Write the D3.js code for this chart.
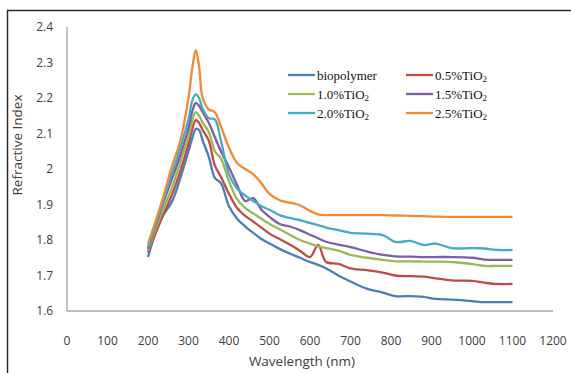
<!DOCTYPE html>
<html>
<head>
<meta charset="utf-8">
<script src="https://cdn.jsdelivr.net/npm/d3@7"></script>
<style>
  body { margin: 0; background: #fff; }
  svg { display: block; }
</style>
</head>
<body>
<div id="chart"></div>
<script>
// wavelength grid (nm) shared by all series
let wavelengths = [200, 230, 260, 280, 300, 310, 318, 326, 335, 350, 365, 380, 400, 420, 440, 460, 480, 500, 525, 550, 575, 600, 620, 640, 670, 700, 740, 780, 810, 850, 880, 910, 950, 1000, 1030, 1060, 1100];

let biopolymer = [1.752, 1.855, 1.91, 1.975, 2.05, 2.09, 2.113, 2.11, 2.08, 2.035, 1.975, 1.96, 1.895, 1.86, 1.838, 1.82, 1.803, 1.79, 1.775, 1.762, 1.75, 1.738, 1.73, 1.72, 1.70, 1.683, 1.663, 1.652, 1.642, 1.642, 1.64, 1.634, 1.632, 1.628, 1.625, 1.625, 1.625];
let tio2_05 = [1.765, 1.85, 1.93, 1.995, 2.07, 2.115, 2.138, 2.13, 2.11, 2.08, 2.01, 1.978, 1.93, 1.89, 1.868, 1.852, 1.835, 1.818, 1.803, 1.787, 1.77, 1.752, 1.786, 1.738, 1.733, 1.72, 1.715, 1.708, 1.70, 1.698, 1.697, 1.692, 1.686, 1.685, 1.68, 1.676, 1.676];
let tio2_10 = [1.77, 1.865, 1.95, 2.02, 2.09, 2.14, 2.16, 2.15, 2.13, 2.105, 2.05, 2.03, 1.965, 1.915, 1.89, 1.875, 1.86, 1.845, 1.83, 1.815, 1.80, 1.79, 1.782, 1.777, 1.77, 1.758, 1.75, 1.744, 1.74, 1.74, 1.739, 1.739, 1.738, 1.732, 1.727, 1.727, 1.727];
let tio2_15 = [1.775, 1.88, 1.975, 2.04, 2.115, 2.165, 2.186, 2.178, 2.16, 2.13, 2.09, 2.05, 2.005, 1.955, 1.91, 1.918, 1.885, 1.865, 1.845, 1.838, 1.828, 1.815, 1.805, 1.795, 1.787, 1.78, 1.768, 1.758, 1.754, 1.753, 1.752, 1.752, 1.752, 1.75, 1.745, 1.744, 1.744];
let tio2_20 = [1.78, 1.885, 1.99, 2.06, 2.14, 2.195, 2.21, 2.2, 2.17, 2.143, 2.14, 2.08, 1.985, 1.945, 1.925, 1.91, 1.895, 1.885, 1.87, 1.862, 1.856, 1.848, 1.842, 1.835, 1.828, 1.82, 1.818, 1.814, 1.795, 1.797, 1.786, 1.79, 1.777, 1.777, 1.776, 1.772, 1.772];
let tio2_25 = [1.79, 1.893, 2.01, 2.08, 2.2, 2.29, 2.335, 2.29, 2.2, 2.168, 2.16, 2.12, 2.06, 2.017, 2.0, 1.985, 1.96, 1.93, 1.912, 1.905, 1.898, 1.882, 1.872, 1.87, 1.87, 1.87, 1.87, 1.87, 1.869, 1.868, 1.867, 1.866, 1.865, 1.865, 1.865, 1.865, 1.865];

let seriesNames = ["biopolymer", "0.5%", "1.0%", "1.5%", "2.0%", "2.5%"];
let seriesValues = [biopolymer, tio2_05, tio2_10, tio2_15, tio2_20, tio2_25];
let seriesColors = ["#4A7EBB", "#BE4B48", "#98B954", "#7D60A0", "#46AAC5", "#F08A35"];

let xTicks = [0, 100, 200, 300, 400, 500, 600, 700, 800, 900, 1000, 1100, 1200];
let yTicks = [1.6, 1.7, 1.8, 1.9, 2.0, 2.1, 2.2, 2.3, 2.4];

let width = 571, height = 373;

let svg = d3.select("#chart").append("svg")
  .attr("width", width)
  .attr("height", height);

// chart area border (top and left visible)
svg.append("path")
  .attr("d", "M7.5,373 L7.5,10.5 L571,10.5")
  .attr("fill", "none")
  .attr("stroke", "#2b2b2b")
  .attr("stroke-width", 1.5);

let x = d3.scaleLinear().domain([0, 1200]).range([67, 553]);
let y = d3.scaleLinear().domain([1.6, 2.4]).range([311, 27]);

let tickFont = "'Open Sans', sans-serif";

// axes lines
svg.append("line")
  .attr("x1", x(0)).attr("x2", x(1200))
  .attr("y1", y(1.6)).attr("y2", y(1.6))
  .attr("stroke", "#a6a6a6").attr("stroke-width", 1.3);
svg.append("line")
  .attr("x1", x(0)).attr("x2", x(0))
  .attr("y1", y(1.6)).attr("y2", y(2.4))
  .attr("stroke", "#a6a6a6").attr("stroke-width", 1.3);

svg.selectAll(".xlab")
  .data(xTicks)
  .enter().append("text")
  .attr("x", function(d) { return x(d); })
  .attr("y", 345)
  .attr("text-anchor", "middle")
  .attr("font-family", tickFont)
  .attr("font-size", 12)
  .attr("fill", "#404040")
  .text(function(d) { return d; });

svg.selectAll(".ylab")
  .data(yTicks)
  .enter().append("text")
  .attr("x", 53)
  .attr("y", function(d) { return y(d) + 4; })
  .attr("text-anchor", "end")
  .attr("font-family", tickFont)
  .attr("font-size", 12)
  .attr("fill", "#404040")
  .text(function(d) { return d === 2 ? "2" : d.toFixed(1); });

svg.append("text")
  .attr("x", 302)
  .attr("y", 366)
  .attr("text-anchor", "middle")
  .attr("font-family", tickFont)
  .attr("font-size", 13.5)
  .attr("fill", "#404040")
  .text("Wavelength (nm)");

svg.append("text")
  .attr("transform", "translate(22,145) rotate(-90)")
  .attr("text-anchor", "middle")
  .attr("font-family", tickFont)
  .attr("font-size", 13.5)
  .attr("fill", "#404040")
  .text("Refractive Index");

let line = d3.line()
  .x(function(d) { return x(d[0]); })
  .y(function(d) { return y(d[1]); })
  .curve(d3.curveCatmullRom.alpha(0.5));

svg.selectAll(".series")
  .data(seriesValues)
  .enter().append("path")
  .attr("d", function(vals) {
    return line(vals.map(function(v, i) { return [wavelengths[i], v]; }));
  })
  .attr("fill", "none")
  .attr("stroke", function(d, i) { return seriesColors[i]; })
  .attr("stroke-width", 2.3)
  .attr("stroke-linejoin", "round");

// legend, two columns
let legend = svg.selectAll(".legend")
  .data(seriesNames)
  .enter().append("g")
  .attr("transform", function(d, i) {
    let col = i % 2, row = Math.floor(i / 2);
    return "translate(" + (col === 0 ? 288 : 406) + "," + (75 + row * 19) + ")";
  });

legend.append("line")
  .attr("x1", 0).attr("x2", 27)
  .attr("y1", 0).attr("y2", 0)
  .attr("stroke", function(d, i) { return seriesColors[i]; })
  .attr("stroke-width", 2.3);

legend.each(function(d) {
  let t = d3.select(this).append("text")
    .attr("x", 29)
    .attr("y", 4.5)
    .attr("font-family", "'Liberation Serif', serif")
    .attr("font-size", 13)
    .attr("fill", "#111");
  if (d === "biopolymer") {
    t.text(d);
  } else {
    t.append("tspan").text(d + "TiO");
    t.append("tspan").attr("font-size", 9).attr("dy", 2).text("2");
  }
});
</script>
</body>
</html>
